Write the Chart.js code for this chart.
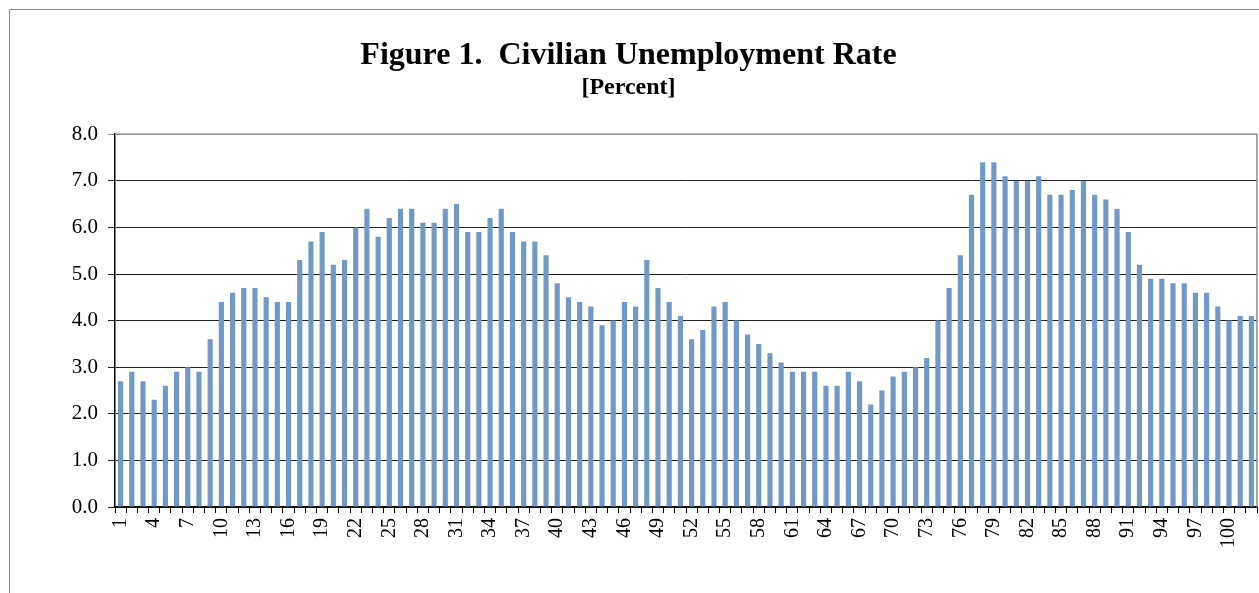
<!DOCTYPE html>
<html>
<head>
<meta charset="utf-8">
<script src="https://cdn.jsdelivr.net/npm/chart.js@4"></script>
<style>
  body { margin: 0; background: #fff; overflow: hidden; }
  #frame { position: absolute; left: 9px; top: 9px; width: 1400px; height: 800px; border: 1px solid #8a8a8a; }
  #barCanvas { position: absolute; left: 0; top: 0; }
</style>
</head>
<body>
<div id="frame"></div>
<canvas id="barCanvas" width="1259" height="593"></canvas>
<script>
const categories = [
    1,2,3,4,5,6,7,8,9,10,11,12,13,14,15,16,17,18,19,20,
    21,22,23,24,25,26,27,28,29,30,31,32,33,34,35,36,37,38,39,40,
    41,42,43,44,45,46,47,48,49,50,51,52,53,54,55,56,57,58,59,60,
    61,62,63,64,65,66,67,68,69,70,71,72,73,74,75,76,77,78,79,80,
    81,82,83,84,85,86,87,88,89,90,91,92,93,94,95,96,97,98,99,100,
    101,102
]

const unemploymentRate = [
    2.7,2.9,2.7,2.3,2.6,2.9,3.0,2.9,3.6,4.4,
    4.6,4.7,4.7,4.5,4.4,4.4,5.3,5.7,5.9,5.2,
    5.3,6.0,6.4,5.8,6.2,6.4,6.4,6.1,6.1,6.4,
    6.5,5.9,5.9,6.2,6.4,5.9,5.7,5.7,5.4,4.8,
    4.5,4.4,4.3,3.9,4.0,4.4,4.3,5.3,4.7,4.4,
    4.1,3.6,3.8,4.3,4.4,4.0,3.7,3.5,3.3,3.1,
    2.9,2.9,2.9,2.6,2.6,2.9,2.7,2.2,2.5,2.8,
    2.9,3.0,3.2,4.0,4.7,5.4,6.7,7.4,7.4,7.1,
    7.0,7.0,7.1,6.7,6.7,6.8,7.0,6.7,6.6,6.4,
    5.9,5.2,4.9,4.9,4.8,4.8,4.6,4.6,4.3,4.0,
    4.1,4.1
]

const yTicks = [0,1,2,3,4,5,6,7,8]
const labelStep = 3

// grey frame on top and right of the plot area
const plotFrame = {
    id: 'plotFrame',
    afterDraw(chart) {
        const a = chart.chartArea
        const ctx = chart.ctx
        ctx.save()
        ctx.strokeStyle = '#8c8c8c'
        ctx.lineWidth = 1.5
        ctx.beginPath()
        ctx.moveTo(a.left, a.top)
        ctx.lineTo(a.right, a.top)
        ctx.lineTo(a.right, a.bottom)
        ctx.stroke()
        ctx.restore()
    }
}

const barCanvas = document.getElementById('barCanvas')

const barChart = new Chart(barCanvas, {
    type: "bar",
    data: {
        labels: categories,
        datasets: [{
            data: unemploymentRate,
            backgroundColor: "#7299c6",
            borderWidth: 0,
            barPercentage: 0.46,
            categoryPercentage: 1.0
        }]
    },
    plugins: [plotFrame],
    options: {
        responsive: false,
        animation: false,
        layout: { padding: { left: 0, right: 2, top: 0, bottom: 0 } },
        plugins: {
            legend: { display: false },
            tooltip: { enabled: false },
            title: {
                display: true,
                text: "Figure 1.  Civilian Unemployment Rate",
                color: "#000",
                font: { family: "'Liberation Serif', 'Times New Roman', serif", size: 32, weight: "bold" },
                padding: { top: 37, bottom: 0 }
            },
            subtitle: {
                display: true,
                text: "[Percent]",
                color: "#000",
                font: { family: "'Liberation Serif', 'Times New Roman', serif", size: 24, weight: "bold" },
                padding: { top: -2, bottom: 32 }
            }
        },
        scales: {
            y: {
                min: 0,
                max: 8,
                afterFit: s => { s.width = 115; s.paddingTop = 0; s.paddingBottom = 0 },
                afterBuildTicks: s => { s.ticks = yTicks.map(v => ({ value: v })) },
                ticks: {
                    color: "#000",
                    padding: 10,
                    font: { family: "'Liberation Serif', 'Times New Roman', serif", size: 21 },
                    callback: v => v.toFixed(1)
                },
                grid: {
                    color: ctx => ctx.tick && ctx.tick.value === 8 ? "#8c8c8c" : "#222",
                    lineWidth: 1,
                    tickLength: 7
                },
                border: { color: "#000", width: 1.5 }
            },
            x: {
                afterFit: s => { s.height = 86; s.paddingLeft = 0; s.paddingRight = 0 },
                ticks: {
                    color: "#000",
                    autoSkip: false,
                    maxRotation: 90,
                    minRotation: 90,
                    padding: 5,
                    font: { family: "'Liberation Serif', 'Times New Roman', serif", size: 20 },
                    callback: function (val, i) { return i % labelStep === 0 ? this.getLabelForValue(val) : "" }
                },
                grid: {
                    offset: true,
                    drawOnChartArea: false,
                    color: "#000",
                    tickLength: 6
                },
                border: { color: "#000", width: 1.5 }
            }
        }
    }
})
</script>
</body>
</html>
